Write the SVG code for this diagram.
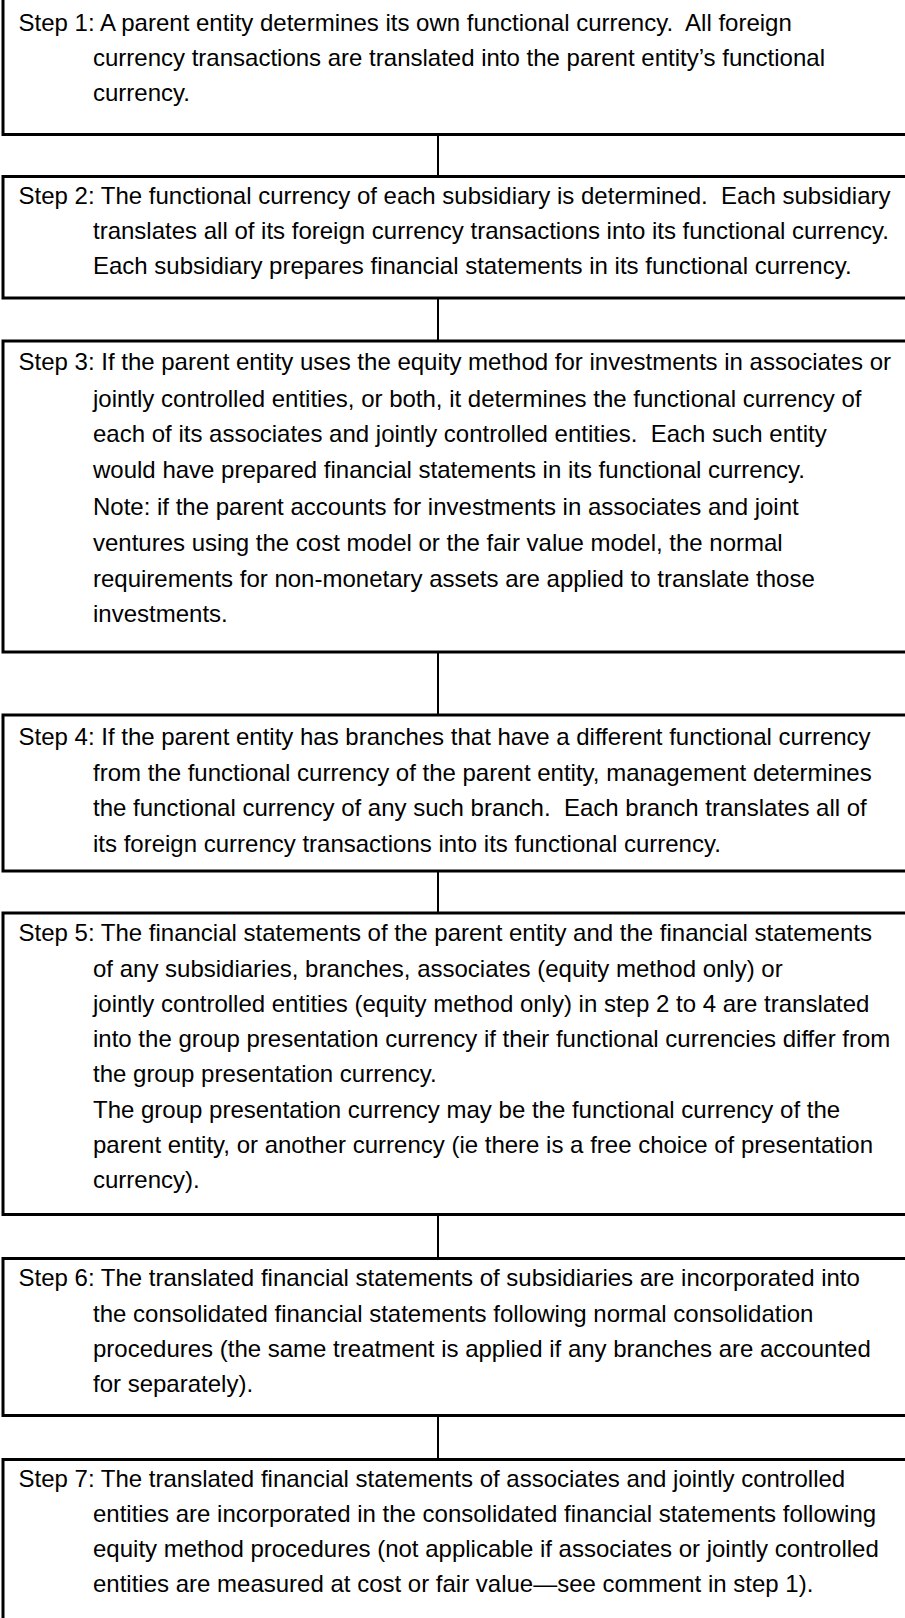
<svg xmlns="http://www.w3.org/2000/svg" width="905" height="1618" viewBox="0 0 905 1618">
<style>
.box{fill:#fff;stroke:#000;stroke-width:3}
.t{font-family:"Liberation Sans",Arial,Helvetica,sans-serif;font-size:24px;fill:#000;white-space:pre}
.c{stroke:#000;stroke-width:2;fill:none}
</style>
<rect x="0" y="0" width="905" height="1618" fill="#fff"/>
<g id="connectors">
<line class="c" x1="438" y1="134.5" x2="438" y2="176.5"/>
<line class="c" x1="438" y1="298" x2="438" y2="341"/>
<line class="c" x1="438" y1="652" x2="438" y2="715"/>
<line class="c" x1="438" y1="871" x2="438" y2="913"/>
<line class="c" x1="438" y1="1214.5" x2="438" y2="1258.5"/>
<line class="c" x1="438" y1="1415.5" x2="438" y2="1459.5"/>
</g>
<g id="step1">
<rect class="box" x="3" y="-2" width="910" height="136.5"/>
<text class="t" x="18.5" y="31" xml:space="preserve">Step 1: A parent entity determines its own functional currency.  All foreign</text>
<text class="t" x="93" y="66">currency transactions are translated into the parent entity’s functional</text>
<text class="t" x="93" y="101">currency.</text>
</g>
<g id="step2">
<rect class="box" x="3" y="176.5" width="910" height="121.5"/>
<text class="t" x="18.5" y="204" xml:space="preserve">Step 2: The functional currency of each subsidiary is determined.  Each subsidiary</text>
<text class="t" x="93" y="239">translates all of its foreign currency transactions into its functional currency.</text>
<text class="t" x="93" y="274">Each subsidiary prepares financial statements in its functional currency.</text>
</g>
<g id="step3">
<rect class="box" x="3" y="341" width="910" height="311"/>
<text class="t" x="18.5" y="369.5">Step 3: If the parent entity uses the equity method for investments in associates or</text>
<text class="t" x="93" y="406.5">jointly controlled entities, or both, it determines the functional currency of</text>
<text class="t" x="93" y="442" xml:space="preserve">each of its associates and jointly controlled entities.  Each such entity</text>
<text class="t" x="93" y="478">would have prepared financial statements in its functional currency.</text>
<text class="t" x="93" y="515">Note: if the parent accounts for investments in associates and joint</text>
<text class="t" x="93" y="551">ventures using the cost model or the fair value model, the normal</text>
<text class="t" x="93" y="586.5">requirements for non-monetary assets are applied to translate those</text>
<text class="t" x="93" y="622">investments.</text>
</g>
<g id="step4">
<rect class="box" x="3" y="715" width="910" height="156"/>
<text class="t" x="18.5" y="745">Step 4: If the parent entity has branches that have a different functional currency</text>
<text class="t" x="93" y="780.5">from the functional currency of the parent entity, management determines</text>
<text class="t" x="93" y="816" xml:space="preserve">the functional currency of any such branch.  Each branch translates all of</text>
<text class="t" x="93" y="851.5">its foreign currency transactions into its functional currency.</text>
</g>
<g id="step5">
<rect class="box" x="3" y="913" width="910" height="301.5"/>
<text class="t" x="18.5" y="941">Step 5: The financial statements of the parent entity and the financial statements</text>
<text class="t" x="93" y="977">of any subsidiaries, branches, associates (equity method only) or</text>
<text class="t" x="93" y="1012">jointly controlled entities (equity method only) in step 2 to 4 are translated</text>
<text class="t" x="93" y="1047">into the group presentation currency if their functional currencies differ from</text>
<text class="t" x="93" y="1082">the group presentation currency.</text>
<text class="t" x="93" y="1117.5">The group presentation currency may be the functional currency of the</text>
<text class="t" x="93" y="1152.5">parent entity, or another currency (ie there is a free choice of presentation</text>
<text class="t" x="93" y="1188">currency).</text>
</g>
<g id="step6">
<rect class="box" x="3" y="1258.5" width="910" height="157"/>
<text class="t" x="18.5" y="1286">Step 6: The translated financial statements of subsidiaries are incorporated into</text>
<text class="t" x="93" y="1321.5">the consolidated financial statements following normal consolidation</text>
<text class="t" x="93" y="1356.5">procedures (the same treatment is applied if any branches are accounted</text>
<text class="t" x="93" y="1391.5">for separately).</text>
</g>
<g id="step7">
<rect class="box" x="3" y="1459.5" width="910" height="170"/>
<text class="t" x="18.5" y="1486.5">Step 7: The translated financial statements of associates and jointly controlled</text>
<text class="t" x="93" y="1521.5">entities are incorporated in the consolidated financial statements following</text>
<text class="t" x="93" y="1556.5">equity method procedures (not applicable if associates or jointly controlled</text>
<text class="t" x="93" y="1591.5">entities are measured at cost or fair value—see comment in step 1).</text>
</g>
</svg>
